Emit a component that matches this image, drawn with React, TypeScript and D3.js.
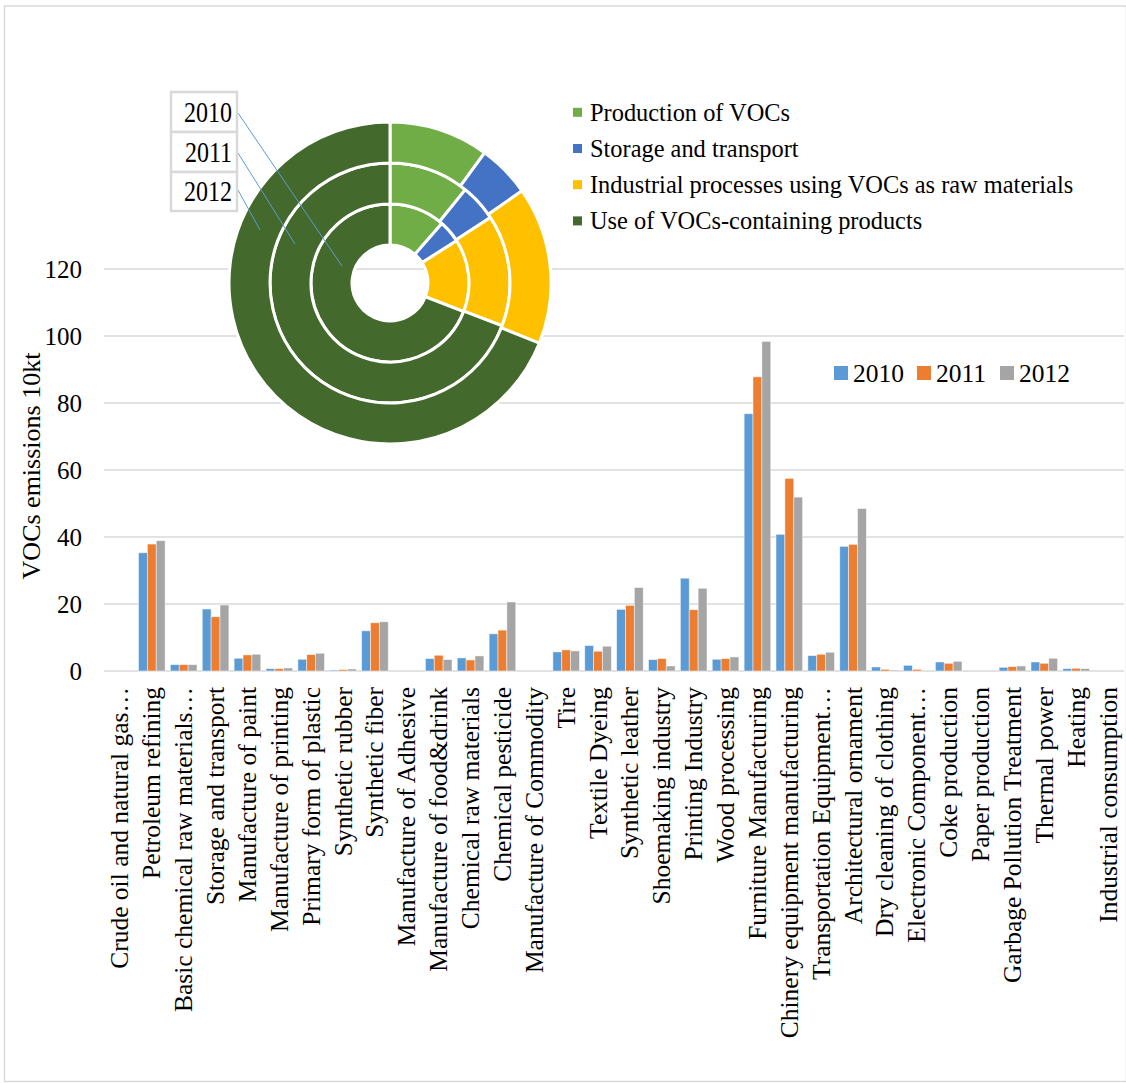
import React from 'react';
import * as d3 from 'd3';

// Emission source sectors (x axis)
const categories = [
  'Crude oil and natural gas…',
  'Petroleum refining',
  'Basic chemical raw materials…',
  'Storage and transport',
  'Manufacture of paint',
  'Manufacture of printing',
  'Primary form of plastic',
  'Synthetic rubber',
  'Synthetic fiber',
  'Manufacture of Adhesive',
  'Manufacture of food&drink',
  'Chemical raw materials',
  'Chemical pesticide',
  'Manufacture of Commodity',
  'Tire',
  'Textile Dyeing',
  'Synthetic leather',
  'Shoemaking industry',
  'Printing Industry',
  'Wood processing',
  'Furniture Manufacturing',
  'Chinery equipment manufacturing',
  'Transportation Equipment…',
  'Architectural ornament',
  'Dry cleaning of clothing',
  'Electronic Component…',
  'Coke production',
  'Paper production',
  'Garbage Pollution Treatment',
  'Thermal power',
  'Heating',
  'Industrial consumption',
];

const years = ['2010', '2011', '2012'];

// VOCs emissions, 10 kt
const emissions2010 = [0, 35.3, 1.9, 18.5, 3.8, 0.7, 3.5, 0.3, 12.0, 0, 3.7, 3.9, 11.1, 0, 5.7, 7.6, 18.4, 3.4, 27.7, 3.5, 76.8, 40.8, 4.6, 37.2, 1.2, 1.7, 2.7, 0, 1.1, 2.7, 0.7, 0];
const emissions2011 = [0, 37.9, 1.9, 16.2, 4.8, 0.7, 4.9, 0.4, 14.4, 0, 4.7, 3.3, 12.2, 0, 6.3, 5.9, 19.6, 3.7, 18.3, 3.7, 87.8, 57.5, 5.0, 37.8, 0.5, 0.5, 2.3, 0, 1.3, 2.3, 0.8, 0];
const emissions2012 = [0, 38.9, 1.9, 19.7, 5.0, 0.9, 5.3, 0.6, 14.7, 0, 3.4, 4.5, 20.6, 0, 6.0, 7.4, 24.9, 1.5, 24.7, 4.2, 98.4, 51.9, 5.6, 48.5, 0.3, 0, 2.9, 0, 1.5, 3.8, 0.7, 0];

const yTicks = [0, 20, 40, 60, 80, 100, 120];

// Share of emissions by source type (%), one ring per year
const sourceTypes = [
  'Production of VOCs',
  'Storage and transport',
  'Industrial processes using VOCs as raw materials',
  'Use of VOCs-containing products',
];
const share2010 = [11.4, 4.6, 14.9, 69.1];
const share2011 = [10.8, 5.0, 15.0, 69.2];
const share2012 = [10.0, 5.3, 15.8, 68.9];

const barColors = ['#5B9BD5', '#ED7D31', '#A5A5A5'];
const ringColors = ['#70AD47', '#4472C4', '#FFC000', '#44692D'];

const FONT = '"Liberation Serif", "Times New Roman", serif';

export default function App() {
  const width = 1126;
  const height = 1083;

  const plotLeft = 104;
  const plotRight = 1124;

  const x = d3
    .scaleBand<number>()
    .domain(categories.map((_, i) => i))
    .range([plotLeft, plotRight])
    .paddingInner(0.165)
    .paddingOuter(0.0825);

  const xYear = d3.scaleBand<string>().domain(years).range([0, x.bandwidth()]);

  const y = d3.scaleLinear().domain([0, 120]).range([671, 269]);

  const series = [emissions2010, emissions2011, emissions2012];

  // Doughnut
  const cx = 390;
  const cy = 283;
  const ringEdges = [38, 79, 120, 161];
  const rings = [share2010, share2011, share2012];
  const pie = d3.pie<number>().sort(null).value((d) => d);

  const yearBoxes = [
    { label: '2010', y0: 92, y1: 132, from: [238, 113], to: [342, 266] },
    { label: '2011', y0: 132, y1: 172, from: [238, 153], to: [295, 244] },
    { label: '2012', y0: 172, y1: 211, from: [238, 190], to: [260, 230] },
  ];

  return (
    <svg
      width={width}
      height={height}
      style={{ position: 'absolute', left: 0, top: 0, background: '#fff' }}
      fontFamily={FONT}
    >
      <rect x={4.5} y={6} width={1122} height={1075.5} fill="#fff" stroke="#D9D9D9" strokeWidth={1.5} />

      {/* gridlines */}
      {yTicks.map((t) => (
        <line key={`g${t}`} x1={plotLeft} x2={plotRight} y1={y(t)} y2={y(t)} stroke="#D9D9D9" strokeWidth={1.5} />
      ))}

      {/* y tick labels */}
      {yTicks.map((t) => (
        <text key={`t${t}`} x={82} y={y(t)} textAnchor="end" dominantBaseline="central" fontSize={25} fill="#000">
          {t}
        </text>
      ))}

      <text
        transform={`translate(31,466) rotate(-90)`}
        textAnchor="middle"
        dominantBaseline="central"
        fontSize={26}
        fill="#000"
      >
        VOCs emissions 10kt
      </text>

      {/* bars */}
      {categories.map((_, i) => (
        <g key={`c${i}`} transform={`translate(${x(i)},0)`}>
          {years.map((yr, k) => {
            const v = series[k][i];
            if (!v) return null;
            return (
              <rect
                key={yr}
                x={xYear(yr)}
                y={y(v)}
                width={xYear.bandwidth()}
                height={y(0) - y(v)}
                fill={barColors[k]}
                stroke="#fff"
                strokeOpacity={0.6}
                strokeWidth={0.8}
              />
            );
          })}
        </g>
      ))}

      {/* category labels */}
      {categories.map((c, i) => (
        <text
          key={`l${i}`}
          transform={`translate(${(x(i) as number) + x.bandwidth() / 2},687) rotate(-90)`}
          textAnchor="end"
          dominantBaseline="central"
          fontSize={25.5}
          fill="#000"
        >
          {c}
        </text>
      ))}

      {/* bar legend */}
      {years.map((yr, k) => (
        <g key={`bl${yr}`} transform={`translate(${834 + k * 83},0)`}>
          <rect x={0} y={366} width={14} height={14} fill={barColors[k]} />
          <text x={19} y={381.5} fontSize={25.5} fill="#000">
            {yr}
          </text>
        </g>
      ))}

      {/* doughnut */}
      <g transform={`translate(${cx},${cy})`}>
        {rings.map((shares, r) => {
          const arc = d3.arc<d3.PieArcDatum<number>>().innerRadius(ringEdges[r]).outerRadius(ringEdges[r + 1]);
          return pie(shares).map((d, j) => (
            <path key={`a${r}-${j}`} d={arc(d) as string} fill={ringColors[j]} stroke="#fff" strokeWidth={3} />
          ));
        })}
      </g>

      {/* ring year labels with leader lines */}
      {yearBoxes.map((b) => (
        <g key={`yb${b.label}`}>
          <line x1={b.from[0]} y1={b.from[1]} x2={b.to[0]} y2={b.to[1]} stroke="#5B9BD5" strokeWidth={1} />
          <rect x={171} y={b.y0} width={66} height={b.y1 - b.y0} fill="#fff" stroke="#D9D9D9" strokeWidth={2.5} />
          <text
            transform={`translate(232,${b.y1 - 10}) scale(0.8,1)`}
            textAnchor="end"
            fontSize={30}
            fill="#000"
          >
            {b.label}
          </text>
        </g>
      ))}

      {/* doughnut legend */}
      {sourceTypes.map((s, j) => {
        const ly = 112.3 + j * 36.2;
        return (
          <g key={`dl${j}`}>
            <rect x={573} y={ly - 4.5} width={9} height={9} fill={ringColors[j]} />
            <text x={590} y={ly} dominantBaseline="central" fontSize={24.4} fill="#000">
              {s}
            </text>
          </g>
        );
      })}
    </svg>
  );
}
